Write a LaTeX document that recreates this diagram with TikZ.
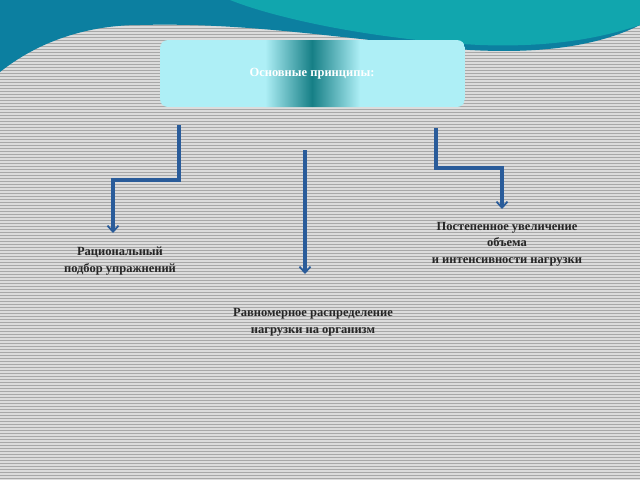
\documentclass[tikz,border=0pt]{standalone}
\usepackage{fontspec}
\setmainfont{Liberation Serif}
\usetikzlibrary{arrows.meta}
\definecolor{bg}{HTML}{A8A8A8}
\definecolor{bgl}{HTML}{DCDCDC}
\definecolor{teal1}{HTML}{0C7FA0}
\definecolor{teal2}{HTML}{11A6AE}
\definecolor{boxc}{HTML}{AEEFF6}
\definecolor{band}{HTML}{167F86}
\definecolor{arr}{HTML}{2A5C9A}
\tikzset{conn/.style={draw=arr,line width=3.2pt,-{Straight Barb[length=6pt,width=11pt,line width=1.8pt]}},
 lbl/.style={font=\bfseries\fontsize{12.5}{16.5}\selectfont,align=center,text=black!85}}
\begin{document}
\begin{tikzpicture}[x=1pt,y=-1pt]
\useasboundingbox (0,0) rectangle (640,480);
\fill[bg] (0,0) rectangle (640,480);
\foreach \y in {0.5,2,...,480} \draw[bgl,line width=0.8pt] (0,\y) -- (640,\y);
\fill[teal1] (0,0) -- (0,72) .. controls (40,40) and (90,25) .. (140,25) .. controls (250,22) and (350,40) .. (470,50) .. controls (560,55) and (610,40) .. (640,25) -- (640,0) -- cycle;
\fill[teal2] (230,0) .. controls (280,20) and (380,40) .. (480,45) .. controls (560,48) and (610,35) .. (640,25) -- (640,0) -- cycle;
\begin{scope}
\clip[rounded corners=8pt] (160,40) rectangle (465,107);
\fill[boxc] (160,40) rectangle (465,107);
\shade[left color=boxc,right color=band] (265,40) rectangle (312,107);
\shade[left color=band,right color=boxc] (312,40) rectangle (360,107);
\end{scope}
\node[lbl,text=white] (top) at (312,74) {Основные принципы:};
\coordinate (a0) at (179,125); \coordinate (a1) at (179,180); \coordinate (a2) at (113,180);
\node[lbl] (l) at (120,261) {Рациональный\\подбор упражнений};
\draw[conn] (a0) -- (a1) -- (a2) -- (113,233);
\coordinate (b0) at (305,150);
\node[lbl] (m) at (313,322) {Равномерное распределение\\нагрузки на организм};
\draw[conn] (b0) -- (305,274);
\coordinate (c0) at (436,128); \coordinate (c1) at (436,168); \coordinate (c2) at (502,168);
\node[lbl] (r) at (507,244) {Постепенное увеличение\\объема\\и интенсивности нагрузки};
\draw[conn] (c0) -- (c1) -- (c2) -- (502,209);
\end{tikzpicture}
\end{document}
